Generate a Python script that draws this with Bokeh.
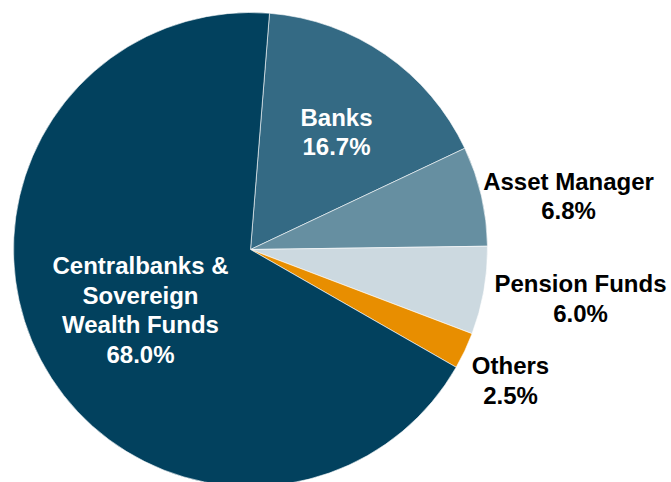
import math
from bokeh.plotting import figure
from bokeh.models import ColumnDataSource, Range1d
from bokeh.core.properties import value
from bokeh.embed import file_html
from bokeh.resources import INLINE

# Data (clockwise order starting near the top)
categories = ["Banks", "Asset Manager", "Pension Funds", "Others",
              "Centralbanks &\nSovereign\nWealth Funds"]
shares = [16.7, 6.8, 6.0, 2.5, 68.0]
colors = ["#346a84", "#668fa1", "#ccd9e0", "#e88e00", "#02415e"]
label_colors = ["white", "black", "black", "black", "white"]

# Layout (pixel coords of the figure, origin bottom-left)
W, H = 671, 482
cx, cy, R = 250, 233, 237
start_offset_deg = 4.6  # clockwise from 12 o'clock
label_pos = [(336, 350.5), (568, 286.5), (580, 184), (510, 102), (140, 172.5)]

total = sum(shares)
starts, ends = [], []
acc = start_offset_deg
for s in shares:
    a0 = acc
    a1 = acc + s / total * 360.0
    starts.append(math.radians(90 - a0))
    ends.append(math.radians(90 - a1))
    acc = a1

texts = [f"{c}\n{s:.1f}%" for c, s in zip(categories, shares)]

src = ColumnDataSource(dict(start=starts, end=ends, color=colors))
lsrc = ColumnDataSource(dict(x=[p[0] for p in label_pos], y=[p[1] for p in label_pos],
                             text=texts, tc=label_colors))

p = figure(width=W, height=H, output_backend="svg", toolbar_location=None,
           x_range=Range1d(0, W), y_range=Range1d(0, H),
           x_axis_type=None, y_axis_type=None, min_border=0)
p.outline_line_color = None
p.grid.visible = False
p.background_fill_color = "white"

p.wedge(x=cx, y=cy, radius=R, start_angle="start", end_angle="end",
        direction="clock", fill_color="color", line_color="white",
        line_width=0.6, source=src)

p.text(x="x", y="y", text="text", text_color="tc", source=lsrc,
       text_font=value("Liberation Sans"), text_font_style="bold",
       text_font_size="24px", text_align="center", text_baseline="middle",
       text_line_height=1.1)

open("out.html", "w").write(file_html(p, INLINE))
